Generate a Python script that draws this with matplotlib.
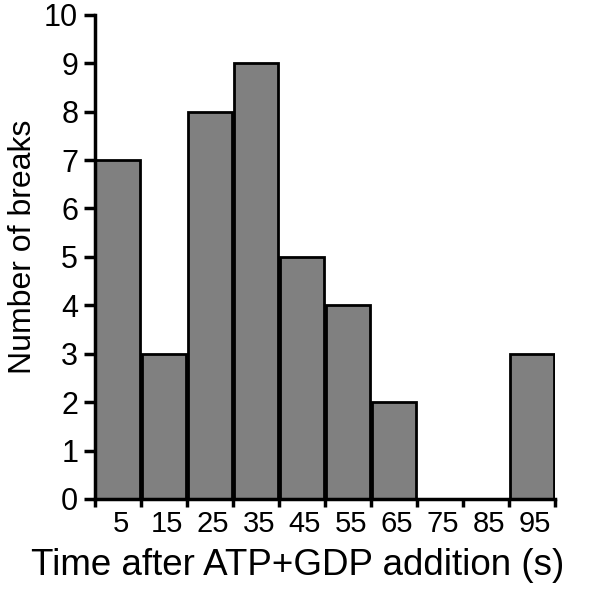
import matplotlib.pyplot as plt
import numpy as np

plt.rcParams["font.family"] = ["Liberation Sans", "DejaVu Sans"]

# histogram bins (s) and break counts
bin_edges = [0, 10, 20, 30, 40, 50, 60, 70, 80, 90, 100]
bin_labels = ["5", "15", "25", "35", "45", "55", "65", "75", "85", "95"]
counts = [7, 3, 8, 9, 5, 4, 2, 0, 0, 3]

fig = plt.figure(figsize=(6.0, 5.94), dpi=100)
ax = fig.add_axes([0.158, 0.160, 0.767, 0.815])

lefts = np.array(bin_edges[:-1], dtype=float)
ax.bar(lefts + 0.15, counts, width=9.6, align="edge",
       color="#808080", edgecolor="black", linewidth=2)

ax.set_xlim(0, 100)
ax.set_ylim(0, 10)
ax.set_yticks(range(0, 11))
ax.set_xticks(bin_edges)
ax.set_xticklabels([])
centers = lefts + 5.6
ax.set_xticks(centers, minor=True)
ax.set_xticklabels(bin_labels, minor=True)
ax.tick_params(axis="x", which="minor", length=0, pad=8, labelsize=21)
ax.tick_params(axis="x", which="major", length=6, width=2.5, direction="out")
ax.tick_params(axis="y", length=8, width=2.5, labelsize=22, pad=4)

for side in ("top", "right"):
    ax.spines[side].set_visible(False)
for side in ("left", "bottom"):
    ax.spines[side].set_linewidth(2.5)

ax.set_xlabel("Time after ATP+GDP addition (s)", fontsize=26.5, va="top")
ax.xaxis.set_label_coords(0.44, -0.102)
ax.set_ylabel("Number of breaks", fontsize=23, va="center")
ax.yaxis.set_label_coords(-0.155, 0.52)

fig.savefig("out.png", dpi=100)
